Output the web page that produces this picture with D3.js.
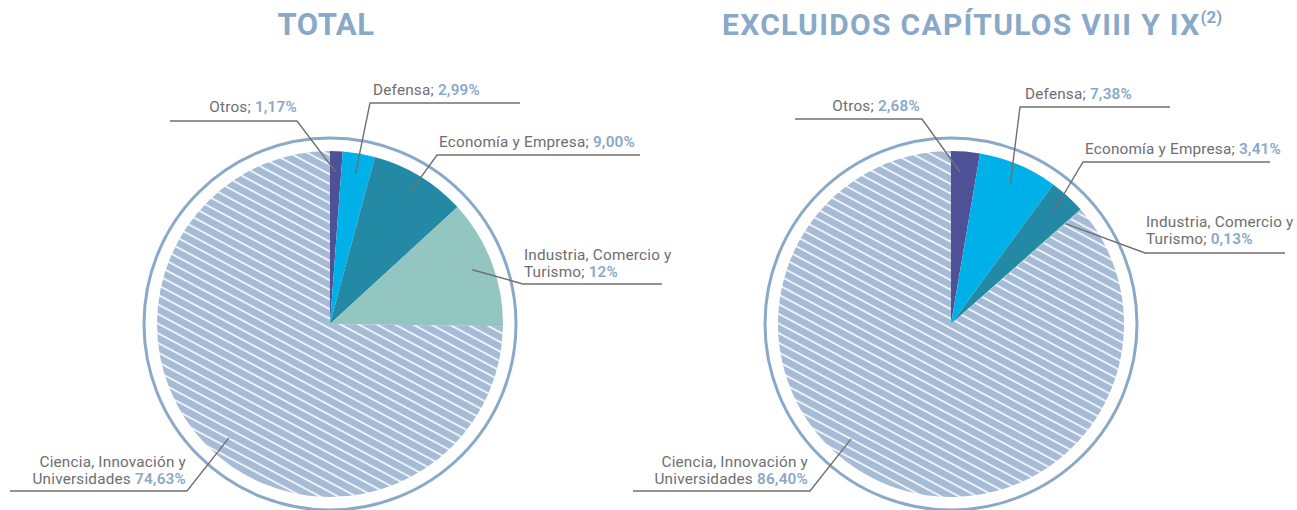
<!DOCTYPE html>
<html>
<head>
<meta charset="utf-8">
<script src="https://cdn.jsdelivr.net/npm/d3@7"></script>
<style>
  body { margin: 0; background: #fff; }
  svg { display: block; }
  .lbl { font-family: Roboto, "Noto Sans", sans-serif; font-size: 15.3px; letter-spacing: 0.2px; fill: #6d6e71; }
  .val { fill: #8aa8c8; font-weight: 600; }
  .title { font-family: Roboto, "Noto Sans", sans-serif; font-weight: 700; fill: #8aa8c8; }
  .leader { stroke: #707070; stroke-width: 1.4; fill: none; }
</style>
</head>
<body>
<div id="chart"></div>
<script>
// categories, clockwise from 12 o'clock
const categories = ["Otros", "Defensa", "Economía y Empresa", "Industria, Comercio y Turismo", "Ciencia, Innovación y Universidades"];
const valuesTotal = [1.17, 2.99, 9.00, 12, 74.63];
const valuesExcl = [2.68, 7.38, 3.41, 0.13, 86.40];
const valueLabelsTotal = ["1,17%", "2,99%", "9,00%", "12%", "74,63%"];
const valueLabelsExcl = ["2,68%", "7,38%", "3,41%", "0,13%", "86,40%"];
const titles = ["TOTAL", "EXCLUIDOS CAPÍTULOS VIII Y IX"];

const colors = ["#4f5197", "#00b0e8", "#2389a5", "#93c5c1", "url(#hatch)"];

// label layout (positions only)
const layoutTotal = [
  {lines: ["Otros;"], x: 297, y: 112, anchor: "end", ly: 121, lx1: 170, lx2: 297, elbow: 297},
  {lines: ["Defensa;"], x: 373, y: 95, anchor: "start", ly: 103, lx1: 370, lx2: 520, elbow: 370},
  {lines: ["Economía y Empresa;"], x: 439, y: 147, anchor: "start", ly: 155, lx1: 437, lx2: 640, elbow: 437},
  {lines: ["Industria, Comercio y", "Turismo;"], x: 524, y: 260, anchor: "start", ly: 284, lx1: 523, lx2: 662, elbow: 523},
  {lines: ["Ciencia, Innovación y", "Universidades"], x: 186, y: 467, anchor: "end", ly: 491, lx1: 10, lx2: 187, elbow: 187, angle: 221.6}
];
const layoutExcl = [
  {lines: ["Otros;"], x: 920, y: 111, anchor: "end", ly: 119, lx1: 795, lx2: 922, elbow: 922, angle: 3.4},
  {lines: ["Defensa;"], x: 1025, y: 99, anchor: "start", ly: 107, lx1: 1020, lx2: 1170, elbow: 1020},
  {lines: ["Economía y Empresa;"], x: 1085, y: 154, anchor: "start", ly: 162, lx1: 1083, lx2: 1270, elbow: 1083},
  {lines: ["Industria, Comercio y", "Turismo;"], x: 1146, y: 227, anchor: "start", ly: 253, lx1: 1145, lx2: 1285, elbow: 1145},
  {lines: ["Ciencia, Innovación y", "Universidades"], x: 808, y: 467, anchor: "end", ly: 491, lx1: 633, lx2: 810, elbow: 810, angle: 221}
];

const width = 1297, height = 510;
const R = 173, ringR = 186;

const svg = d3.select("#chart").append("svg")
  .attr("width", width)
  .attr("height", height);

// hatch pattern for the big slice
const defs = svg.append("defs");
const pat = defs.append("pattern")
  .attr("id", "hatch")
  .attr("patternUnits", "userSpaceOnUse")
  .attr("width", 8.5)
  .attr("height", 8.5)
  .attr("patternTransform", "rotate(28)");
pat.append("rect").attr("width", 8.5).attr("height", 8.5).attr("fill", "#a5bbd6");
pat.append("line")
  .attr("x1", 0).attr("y1", 4).attr("x2", 8.5).attr("y2", 4)
  .attr("stroke", "#fff").attr("stroke-width", 1.6);

const pie = d3.pie().sort(null).value(d => d);
const arc = d3.arc().innerRadius(0).outerRadius(R);

function drawChart(cx, cy, values, valueLabels, layout){
  let g = svg.append("g").attr("transform", "translate(" + cx + "," + cy + ")");

  // outer ring
  g.append("circle")
    .attr("r", ringR)
    .attr("fill", "none")
    .attr("stroke", "#8aa8c8")
    .attr("stroke-width", 3);

  let arcs = pie(values);
  g.selectAll(".slice")
    .data(arcs)
    .enter()
    .append("path")
    .attr("class", "slice")
    .attr("d", arc)
    .attr("fill", (d, i) => colors[i]);

  // labels + leader lines
  arcs.forEach(function(d, i){
    let L = layout[i];
    let a = L.angle !== undefined ? L.angle * Math.PI / 180 : (d.startAngle + d.endAngle) / 2;
    let r = R * 0.88;
    let px = cx + r * Math.sin(a);
    let py = cy - r * Math.cos(a);

    svg.append("polyline")
      .attr("class", "leader")
      .attr("points", [[L.lx1 === L.elbow ? L.lx2 : L.lx1, L.ly], [L.elbow, L.ly], [px, py]].map(p => p.join(",")).join(" "));

    let t = svg.append("text")
      .attr("class", "lbl")
      .attr("text-anchor", L.anchor);
    L.lines.forEach(function(line, j){
      let ts = t.append("tspan")
        .attr("x", L.x)
        .attr("y", L.y + j * 16.5)
        .text(line);
      if (j === L.lines.length - 1) {
        ts.append("tspan").attr("class", "val").text(" " + valueLabels[i]);
      }
    });
  });
}

drawChart(330, 324, valuesTotal, valueLabelsTotal, layoutTotal);
drawChart(951, 324, valuesExcl, valueLabelsExcl, layoutExcl);

// titles
svg.append("text")
  .attr("class", "title")
  .attr("x", 326)
  .attr("y", 35)
  .attr("text-anchor", "middle")
  .style("font-size", "31px")
  .style("letter-spacing", "0.5px")
  .text(titles[0]);

let t2 = svg.append("text")
  .attr("class", "title")
  .attr("x", 722)
  .attr("y", 35)
  .style("font-size", "30px")
  .style("letter-spacing", "1.3px");
t2.append("tspan").text(titles[1]);
t2.append("tspan")
  .attr("dy", -12)
  .attr("dx", 0)
  .style("font-size", "17px")
  .style("letter-spacing", "0px")
  .text("(2)");
</script>
</body>
</html>
